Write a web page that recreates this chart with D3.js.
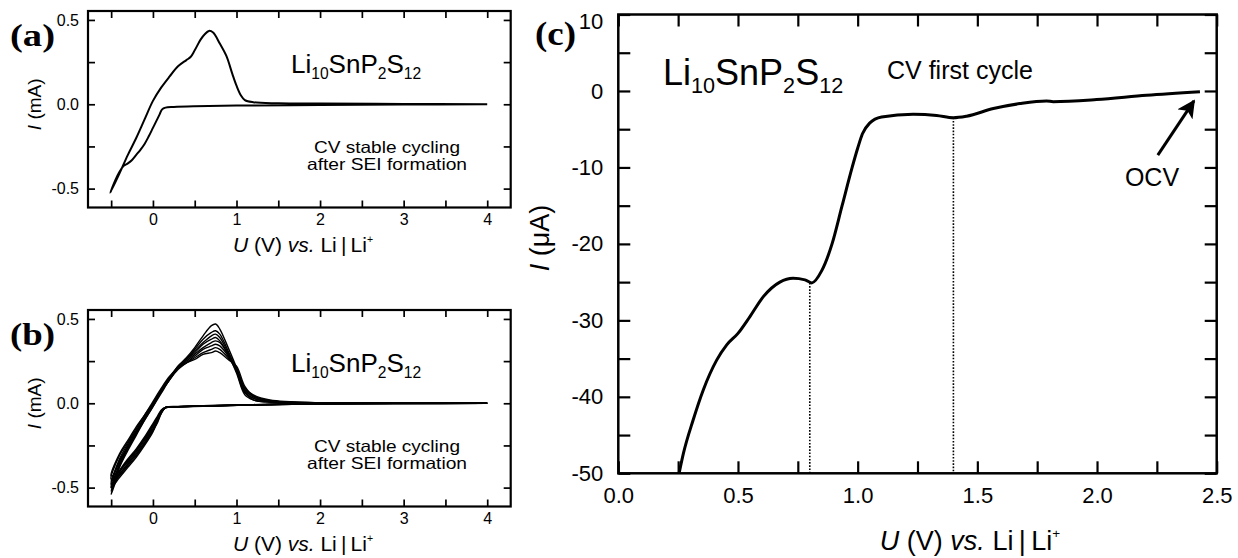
<!DOCTYPE html>
<html>
<head>
<meta charset="utf-8">
<script src="https://cdn.jsdelivr.net/npm/d3@7"></script>
<style>
  body { margin: 0; background: #fff; }
  svg { display: block; }
  text { font-family: "Liberation Sans", Arial, Helvetica, sans-serif; fill: #000; }
</style>
</head>
<body>
<svg id="chart" width="1238" height="558"></svg>
<script>
// ---- panel (a): one stable CV cycle (U in V, I in mA)
const aLowU = [4, 3, 2, 1, 0.5, 0.25, 0.15, 0.11, 0.08, 0.04, 0, -0.05, -0.1, -0.15, -0.2, -0.25, -0.3, -0.35, -0.4, -0.45, -0.51];
const aLowI = [0, -0.002, -0.004, -0.008, -0.012, -0.016, -0.02, -0.03, -0.06, -0.1, -0.14, -0.19, -0.235, -0.27, -0.30, -0.33, -0.35, -0.365, -0.40, -0.45, -0.525];
const aUpU = [-0.4, -0.3, -0.2, -0.1, 0, 0.1, 0.2, 0.3, 0.4, 0.45, 0.5, 0.57, 0.62, 0.67, 0.72, 0.8, 0.88, 0.95, 1.0, 1.05, 1.1, 1.2, 1.5, 2, 3, 4];
const aUpI = [-0.41, -0.30, -0.2, -0.09, 0.02, 0.1, 0.165, 0.225, 0.262, 0.28, 0.32, 0.383, 0.415, 0.435, 0.425, 0.36, 0.285, 0.18, 0.11, 0.055, 0.025, 0.012, 0.006, 0.004, 0.002, 0];

// ---- panel (b): repeated cycles, shared voltage grids
const bLowU = [4, 2, 1.2, 0.6, 0.3, 0.15, 0.1, 0.05, 0, -0.1, -0.2, -0.3, -0.4, -0.5];
const bUpU = [-0.4, -0.3, -0.2, -0.1, 0, 0.1, 0.2, 0.3, 0.4, 0.5, 0.6, 0.7, 0.75, 0.8, 0.9, 1.0, 1.1, 1.2, 1.4, 2, 4];
const bCycle1Low = [0, -0.003, -0.01, -0.018, -0.022, -0.028, -0.05, -0.09, -0.13, -0.21, -0.28, -0.34, -0.41, -0.54];
const bCycle1Up = [-0.37, -0.27, -0.18, -0.09, -0.01, 0.08, 0.15, 0.22, 0.27, 0.33, 0.40, 0.46, 0.47, 0.44, 0.33, 0.21, 0.07, 0.02, 0.008, 0.002, 0];
const bCycle2Low = [0, -0.003, -0.01, -0.017, -0.02, -0.025, -0.04, -0.08, -0.12, -0.2, -0.27, -0.33, -0.4, -0.5];
const bCycle2Up = [-0.36, -0.26, -0.17, -0.09, -0.01, 0.07, 0.15, 0.21, 0.26, 0.32, 0.38, 0.42, 0.43, 0.41, 0.31, 0.19, 0.06, 0.03, 0.01, 0.002, 0];
const bCycle3Low = [0, -0.002, -0.008, -0.016, -0.02, -0.026, -0.06, -0.11, -0.15, -0.23, -0.30, -0.36, -0.42, -0.52];
const bCycle3Up = [-0.38, -0.28, -0.19, -0.1, -0.02, 0.07, 0.14, 0.21, 0.26, 0.31, 0.36, 0.40, 0.41, 0.39, 0.30, 0.20, 0.08, 0.04, 0.015, 0.003, 0];
const bCycle4Low = [0, -0.003, -0.009, -0.015, -0.019, -0.024, -0.045, -0.1, -0.16, -0.24, -0.31, -0.37, -0.43, -0.48];
const bCycle4Up = [-0.33, -0.24, -0.16, -0.08, 0, 0.08, 0.15, 0.22, 0.26, 0.3, 0.35, 0.38, 0.39, 0.37, 0.29, 0.18, 0.05, 0.02, 0.006, 0.002, 0];
const bCycle5Low = [0, -0.002, -0.01, -0.017, -0.021, -0.027, -0.055, -0.1, -0.14, -0.22, -0.29, -0.35, -0.40, -0.46];
const bCycle5Up = [-0.35, -0.25, -0.17, -0.09, -0.01, 0.07, 0.14, 0.21, 0.25, 0.29, 0.33, 0.36, 0.37, 0.36, 0.29, 0.21, 0.09, 0.05, 0.02, 0.003, 0];
const bCycle6Low = [0, -0.003, -0.009, -0.016, -0.02, -0.025, -0.05, -0.11, -0.17, -0.25, -0.32, -0.38, -0.44, -0.5];
const bCycle6Up = [-0.34, -0.26, -0.18, -0.1, -0.02, 0.06, 0.14, 0.2, 0.24, 0.28, 0.32, 0.34, 0.35, 0.34, 0.28, 0.19, 0.07, 0.03, 0.01, 0.002, 0];
const bCycle7Low = [0, -0.002, -0.008, -0.015, -0.02, -0.026, -0.06, -0.12, -0.16, -0.24, -0.3, -0.36, -0.42, -0.45];
const bCycle7Up = [-0.31, -0.23, -0.15, -0.07, 0, 0.08, 0.15, 0.21, 0.24, 0.27, 0.3, 0.32, 0.33, 0.32, 0.27, 0.2, 0.08, 0.04, 0.012, 0.002, 0];
const bCycle8Low = [0, -0.003, -0.01, -0.016, -0.02, -0.024, -0.045, -0.09, -0.13, -0.21, -0.28, -0.34, -0.4, -0.43];
const bCycle8Up = [-0.30, -0.22, -0.14, -0.07, 0.01, 0.09, 0.16, 0.21, 0.24, 0.26, 0.29, 0.30, 0.31, 0.30, 0.26, 0.22, 0.1, 0.045, 0.015, 0.002, 0];

// ---- panel (c): first cycle (U in V, I in uA)
const cU = [0.254, 0.272, 0.313, 0.355, 0.411, 0.453, 0.50, 0.55, 0.606, 0.675, 0.73, 0.78, 0.808, 0.85, 0.893, 0.935, 0.977, 1.0, 1.02, 1.05, 1.1, 1.232, 1.33, 1.40, 1.455, 1.567, 1.678, 1.789, 1.817, 1.998, 2.207, 2.43];
const cI = [-50, -47.4, -43.0, -39.1, -35.2, -33.2, -31.7, -29.5, -26.9, -25.0, -24.5, -24.7, -25.1, -23.5, -20.0, -15.0, -10.0, -7.5, -5.6, -4.2, -3.4, -3.05, -3.2, -3.5, -3.3, -2.3, -1.65, -1.3, -1.4, -1.13, -0.56, -0.1];
const cMarkU = [0.8, 1.4];
const cMarkI = [-25.1, -3.5];
const ocvArrowU = [2.254, 2.405];
const ocvArrowI = [-8.4, -1.3];

// tick labels
const abXTicks = [0, 1, 2, 3, 4];
const abYTicks = [-0.5, 0, 0.5];
const cXTicks = [0, 0.5, 1, 1.5, 2, 2.5];
const cYTicks = [-50, -40, -30, -20, -10, 0, 10];

const svg = d3.select("#chart");
const hy = s => s.replace("\u2212", "-");

function makePanel(o) {
  const g = svg.append("g");
  const x = d3.scaleLinear().domain(o.xDomain).range([o.left, o.right]);
  const y = d3.scaleLinear().domain(o.yDomain).range([o.bottom, o.top]);

  function addAxis(axis, tr) {
    const a = g.append("g").attr("transform", tr).call(axis);
    a.select(".domain").remove();
    a.attr("font-family", null).attr("font-size", null);
    a.selectAll("line").attr("stroke", "#000").attr("stroke-width", o.tickWidth);
    a.selectAll("text").attr("font-size", o.tickFont).attr("fill", "#000");
    return a;
  }
  const allX = o.xMajor.concat(o.xMinor), allY = o.yMajor.concat(o.yMinor);

  addAxis(d3.axisBottom(x).tickValues(o.xMajor).tickSizeInner(-o.tick).tickSizeOuter(0)
    .tickPadding(o.xPad).tickFormat(o.xFmt), `translate(0,${o.bottom})`);
  addAxis(d3.axisBottom(x).tickValues(o.xMinor).tickSizeInner(-o.tick).tickSizeOuter(0)
    .tickFormat(""), `translate(0,${o.bottom})`);
  addAxis(d3.axisTop(x).tickValues(allX).tickSizeInner(-o.tick).tickSizeOuter(0)
    .tickFormat(""), `translate(0,${o.top})`);
  const left = addAxis(d3.axisLeft(y).tickValues(o.yMajor).tickSizeInner(-o.tick).tickSizeOuter(0)
    .tickPadding(o.yPad).tickFormat(o.yFmt), `translate(${o.left},0)`);
  addAxis(d3.axisLeft(y).tickValues(o.yMinor).tickSizeInner(-o.tick).tickSizeOuter(0)
    .tickFormat(""), `translate(${o.left},0)`);
  addAxis(d3.axisRight(y).tickValues(allY).tickSizeInner(-o.tick).tickSizeOuter(0)
    .tickFormat(""), `translate(${o.right},0)`);

  g.append("rect")
    .attr("x", o.left).attr("y", o.top)
    .attr("width", o.right - o.left).attr("height", o.bottom - o.top)
    .attr("fill", "none").attr("stroke", "#000").attr("stroke-width", o.frameWidth);

  return { g, x, y, left };
}

function richText(parent, x, y, parts, size, anchor) {
  const t = parent.append("text").attr("x", x).attr("y", y)
    .attr("font-size", size).attr("text-anchor", anchor || "start");
  parts.forEach(p => {
    const s = t.append("tspan").text(p.t);
    if (p.i) s.attr("font-style", "italic");
    if (p.sub) s.attr("font-size", size * 0.6).attr("dy", size * 0.22);
    if (p.back) s.attr("dy", -size * 0.22);
    if (p.sup) s.attr("font-size", size * 0.5).attr("dy", -size * 0.45);
  });
  return t;
}

function formula(parent, x, y, size) {
  return richText(parent, x, y, [
    { t: "Li" }, { t: "10", sub: 1 }, { t: "SnP", back: 1 }, { t: "2", sub: 1 },
    { t: "S", back: 1 }, { t: "12", sub: 1 }
  ], size);
}

function uTitle(parent, x, y, size) {
  return richText(parent, x, y, [
    { t: "U", i: 1 }, { t: " (V) " }, { t: "vs.", i: 1 }, { t: " Li\u2009|\u2009Li" }, { t: "+", sup: 1 }
  ], size, "middle");
}

function iTitle(parent, x, y, unit, size) {
  parent.append("text")
    .attr("transform", `translate(${x},${y}) rotate(-90)`)
    .attr("text-anchor", "middle").attr("font-size", size)
    .call(t => { t.append("tspan").attr("font-style", "italic").text("I"); t.append("tspan").text(" (" + unit + ")"); });
}

function panelLabel(parent, x, y, s, size, len) {
  parent.append("text").attr("x", x).attr("y", y).text(s)
    .style("font-family", "'Liberation Serif', 'Times New Roman', serif")
    .attr("font-weight", "bold").attr("font-size", size)
    .attr("textLength", len).attr("lengthAdjust", "spacingAndGlyphs");
}

const loopLine = (p) => d3.line().x(d => p.x(d[0])).y(d => p.y(d[1]))
  .curve(d3.curveCatmullRom.alpha(0.5));

// ---------- panel (a) and (b)
function smallPanel(top, label) {
  const p = makePanel({
    left: 88, right: 510.7, top: top, bottom: top + 196.5,
    xDomain: [-0.777, 4.281], yDomain: [-0.612, 0.553],
    xMajor: abXTicks, xMinor: [-0.5, 0.5, 1.5, 2.5, 3.5],
    yMajor: abYTicks, yMinor: [-0.25, 0.25],
    tick: 7, tickWidth: 1.7, frameWidth: 2.2, tickFont: 16, xPad: 6, yPad: 9,
    xFmt: d3.format("d"), yFmt: d => hy(d3.format(".1f")(d))
  });
  panelLabel(p.g, 10, top + 35, "(" + label + ")", 31, 45);
  iTitle(p.g, 41, p.y(0), "mA", 19);
  uTitle(p.g, 303, top + 241, 21);
  formula(p.g, 291, top + 62, 26);
  p.g.append("text").attr("x", 387).attr("y", top + 142).attr("text-anchor", "middle")
    .attr("font-size", 16.5).attr("textLength", 146).attr("lengthAdjust", "spacingAndGlyphs")
    .text("CV stable cycling");
  p.g.append("text").attr("x", 387).attr("y", top + 159).attr("text-anchor", "middle")
    .attr("font-size", 16.5).attr("textLength", 160).attr("lengthAdjust", "spacingAndGlyphs")
    .text("after SEI formation");
  return p;
}

const pa = smallPanel(11, "a");
pa.g.append("path")
  .datum(d3.zip(aLowU, aLowI).concat(d3.zip(aUpU, aUpI)))
  .attr("d", loopLine(pa))
  .attr("fill", "none").attr("stroke", "#000").attr("stroke-width", 2);

const pb = smallPanel(310, "b");
const bCycles = [
  [bCycle1Low, bCycle1Up], [bCycle2Low, bCycle2Up], [bCycle3Low, bCycle3Up], [bCycle4Low, bCycle4Up],
  [bCycle5Low, bCycle5Up], [bCycle6Low, bCycle6Up], [bCycle7Low, bCycle7Up], [bCycle8Low, bCycle8Up]
];
pb.g.selectAll("path.cycle")
  .data(bCycles)
  .join("path")
  .attr("class", "cycle")
  .attr("d", c => loopLine(pb)(d3.zip(bLowU, c[0]).concat(d3.zip(bUpU, c[1]))))
  .attr("fill", "none").attr("stroke", "#000").attr("stroke-width", 1.4);

// ---------- panel (c)
const pc = makePanel({
  left: 618.3, right: 1216.7, top: 14.5, bottom: 473.3,
  xDomain: [0, 2.5], yDomain: [-50, 10],
  xMajor: cXTicks, xMinor: [0.25, 0.75, 1.25, 1.75, 2.25],
  yMajor: cYTicks, yMinor: [-45, -35, -25, -15, -5, 5],
  tick: 12, tickWidth: 2.2, frameWidth: 2.5, tickFont: 22, xPad: 14, yPad: 15,
  xFmt: d3.format(".1f"), yFmt: d => hy(d3.format("d")(d))
});
pc.left.selectAll(".tick").filter(d => d === 10).select("text").attr("dy", "0.64em");
panelLabel(pc.g, 535, 45, "(c)", 33, 41);
iTitle(pc.g, 549, 238, "\u03bcA", 27);
uTitle(pc.g, 970, 550, 27);
formula(pc.g, 663, 85, 36);
pc.g.append("text").attr("x", 887).attr("y", 79).attr("font-size", 25).text("CV first cycle");
pc.g.append("text").attr("x", 1152).attr("y", 186).attr("text-anchor", "middle").attr("font-size", 25).text("OCV");

pc.g.selectAll("line.mark")
  .data(d3.zip(cMarkU, cMarkI))
  .join("line")
  .attr("class", "mark")
  .attr("x1", d => pc.x(d[0])).attr("x2", d => pc.x(d[0]))
  .attr("y1", d => pc.y(d[1])).attr("y2", pc.y(-50))
  .attr("stroke", "#000").attr("stroke-width", 1.6).attr("stroke-dasharray", "1.6,1.6");

pc.g.append("path")
  .datum(d3.zip(cU, cI))
  .attr("d", d3.line().x(d => pc.x(d[0])).y(d => pc.y(d[1])).curve(d3.curveMonotoneX))
  .attr("fill", "none").attr("stroke", "#000").attr("stroke-width", 3);

svg.append("defs").append("marker")
  .attr("id", "arrow").attr("viewBox", "0 0 10 10").attr("refX", 9).attr("refY", 5)
  .attr("markerWidth", 18).attr("markerHeight", 18).attr("markerUnits", "userSpaceOnUse")
  .attr("orient", "auto")
  .append("path").attr("d", "M0,0 L10,5 L0,10 L2.5,5 Z").attr("fill", "#000");

pc.g.append("line")
  .attr("x1", pc.x(ocvArrowU[0])).attr("y1", pc.y(ocvArrowI[0]))
  .attr("x2", pc.x(ocvArrowU[1])).attr("y2", pc.y(ocvArrowI[1]))
  .attr("stroke", "#000").attr("stroke-width", 3).attr("marker-end", "url(#arrow)");
</script>
</body>
</html>
